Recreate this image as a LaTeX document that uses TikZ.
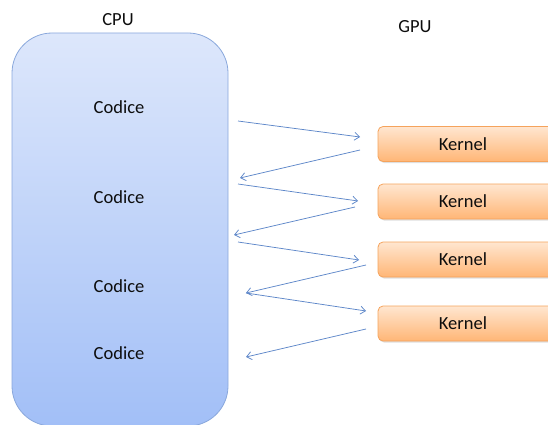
\documentclass[tikz,border=0pt]{standalone}
\usepackage{fontspec}
\setmainfont{Carlito}
\usetikzlibrary{arrows.meta,shadows}
\definecolor{cpuTop}{HTML}{DDE7FB}
\definecolor{cpuBot}{HTML}{A2BFF7}
\definecolor{cpuLine}{HTML}{8AA8DC}
\definecolor{kTop}{HTML}{FFE6D0}
\definecolor{kBot}{HTML}{FFB676}
\definecolor{kLine}{HTML}{F5A35C}
\definecolor{flow}{HTML}{5E87C9}
\definecolor{ink}{HTML}{0D0D0D}
\tikzset{
  txt/.style={font=\fontsize{18.5}{21}\selectfont, text=ink},
  cpubox/.style={rectangle, rounded corners=40pt, draw=cpuLine, line width=0.8pt,
    top color=cpuTop, bottom color=cpuBot, minimum width=216pt, minimum height=393pt, inner sep=0pt},
  kbox/.style={rectangle, rounded corners=5pt, draw=kLine, line width=0.8pt,
    top color=kTop, bottom color=kBot, minimum width=178pt, minimum height=35pt, inner sep=0pt,
    drop shadow={opacity=0.25, shadow xshift=1pt, shadow yshift=-1.5pt}},
  call/.style={draw=flow, line width=0.75pt, -{Straight Barb[length=5pt,width=8pt]}}
}
\begin{document}
\begin{tikzpicture}[x=1pt,y=-1pt]
  \useasboundingbox (0,0) rectangle (548,425);
  \clip (0,0) rectangle (548,425);

  % host side
  \node[cpubox] (cpu) at (120,229.5) {};
  \node[txt] (cpulabel) at (118,20) {CPU};
  \node[txt] (c1) at (119,107) {Codice};
  \node[txt] (c2) at (119,197) {Codice};
  \node[txt] (c3) at (119,286) {Codice};
  \node[txt] (c4) at (119,353) {Codice};

  % device side
  \node[txt] (gpulabel) at (415,27) {GPU};
  \node[kbox] (k1) at (467,144) {};
  \node[kbox] (k2) at (467,201.5) {};
  \node[kbox] (k3) at (467,259.5) {};
  \node[kbox] (k4) at (467,323.5) {};
  \node[txt] (k1t) at (463,144) {Kernel};
  \node[txt] (k2t) at (463,201.5) {Kernel};
  \node[txt] (k3t) at (463,259.5) {Kernel};
  \node[txt] (k4t) at (463,323.5) {Kernel};

  % launch / return points
  \coordinate (a1) at (238,121);  \coordinate (b1) at (360,137);
  \coordinate (b2) at (360,150);  \coordinate (a2) at (240,178);
  \coordinate (a3) at (238,184);  \coordinate (b3) at (358,201);
  \coordinate (b4) at (355,207);  \coordinate (a4) at (234,235);
  \coordinate (a5) at (238,242);  \coordinate (b5) at (359,260);
  \coordinate (b6) at (366,265);  \coordinate (a6) at (246,293);
  \coordinate (a7) at (246,293);  \coordinate (b7) at (366,311);
  \coordinate (b8) at (366,329);  \coordinate (a8) at (246,357);

  \draw[call] (a1) -- (b1);
  \draw[call] (b2) -- (a2);
  \draw[call] (a3) -- (b3);
  \draw[call] (b4) -- (a4);
  \draw[call] (a5) -- (b5);
  \draw[call] (b6) -- (a6);
  \draw[call] (a7) -- (b7);
  \draw[call] (b8) -- (a8);
\end{tikzpicture}
\end{document}
